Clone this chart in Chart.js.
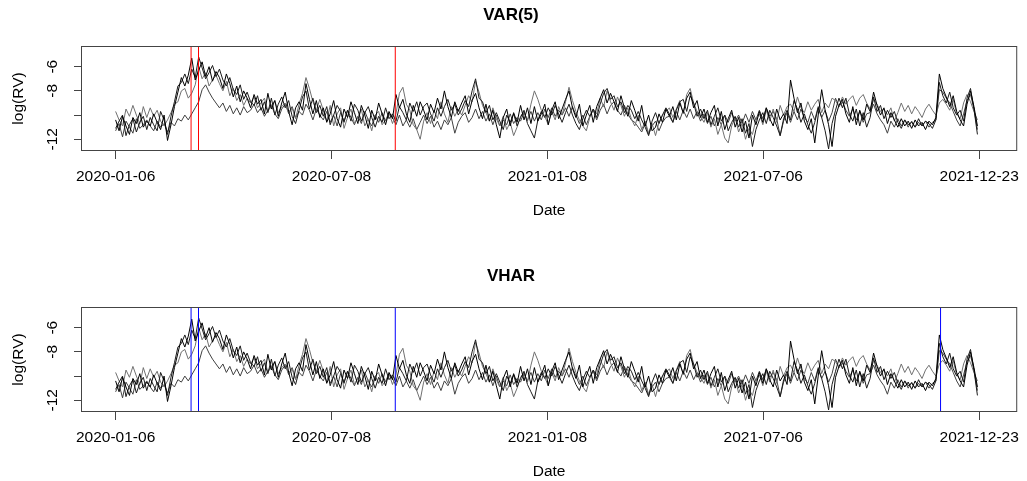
<!DOCTYPE html>
<html>
<head>
<meta charset="utf-8">
<script src="https://cdn.jsdelivr.net/npm/chart.js@4.4.0/dist/chart.umd.min.js"></script>
<style>
  body { margin: 0; background: #fff; }
  .panel { position: absolute; left: 0; width: 1027px; height: 220px; }
</style>
</head>
<body>
<div class="panel" style="top:0"><canvas id="varChart" width="1027" height="220"></canvas></div>
<div class="panel" style="top:261px"><canvas id="vharChart" width="1027" height="220"></canvas></div>
<script>
// log(RV), one value every 2 trading days (day index = i * 2)
const step = 2;
const tickDays = [0, 124.75, 249.5, 374.25, 499];
const tickLabels = ['2020-01-06', '2020-07-08', '2021-01-08', '2021-07-06', '2021-12-23'];
const yTicks = [-12, -10, -8, -6];
const breaksVAR = [43.6, 47.9, 161.6];
const breaksVHAR = [43.6, 47.9, 161.6, 476.7];

const rv1 = [
  -10.4,-11.3,-10.1,-10.9,-11.6,-10.2,-10.7,-9.8,-11.0,-10.5,
  -10.9,-9.9,-10.6,-11.2,-10.0,-12.1,-10.8,-9.3,-8.1,-6.9,
  -7.6,-6.7,-5.3,-7.1,-6.3,-5.6,-6.8,-6.0,-7.2,-6.4,
  -6.9,-7.8,-6.6,-7.4,-8.5,-7.6,-8.9,-8.0,-8.6,-9.4,
  -8.3,-9.1,-8.7,-9.9,-8.2,-9.5,-8.8,-10.1,-9.0,-8.1,
  -9.7,-10.8,-9.4,-8.9,-9.6,-7.4,-8.7,-9.9,-8.8,-10.2,
  -9.4,-10.6,-9.9,-8.8,-10.3,-11.0,-9.5,-10.2,-8.9,-9.8,
  -10.7,-9.2,-10.0,-11.1,-9.6,-10.4,-9.0,-9.9,-10.8,-9.7,
  -10.3,-8.3,-9.4,-8.7,-9.9,-10.6,-9.2,-10.1,-8.9,-9.6,
  -10.4,-9.1,-9.8,-8.6,-9.5,-8.0,-9.3,-10.2,-8.9,-9.7,
  -9.0,-8.4,-9.9,-8.8,-8.2,-9.4,-10.3,-9.1,-10.5,-9.6,
  -10.8,-11.9,-10.2,-9.5,-10.9,-9.8,-10.6,-9.2,-10.4,-9.4,
  -10.7,-9.3,-10.5,-9.9,-9.1,-10.8,-9.6,-8.9,-10.3,-9.5,
  -8.7,-8.0,-9.4,-10.2,-9.1,-10.9,-10.0,-9.2,-10.6,-9.3,
  -8.6,-7.9,-9.0,-8.2,-8.9,-9.7,-8.4,-9.4,-10.1,-8.8,
  -9.6,-10.5,-9.2,-10.9,-10.0,-11.3,-11.0,-9.9,-10.6,-9.5,
  -10.1,-9.3,-10.4,-9.0,-9.8,-8.6,-8.1,-9.4,-8.8,-10.2,
  -9.5,-10.6,-9.8,-9.2,-10.9,-9.7,-11.2,-10.3,-9.6,-11.0,
  -10.2,-11.4,-10.5,-11.9,-10.0,-10.8,-9.7,-10.6,-9.4,-10.3,
  -10.9,-9.5,-10.4,-9.9,-10.7,-7.1,-8.6,-9.8,-9.0,-10.5,
  -11.2,-10.3,-12.3,-10.0,-7.9,-9.6,-10.8,-12.6,-10.1,-9.2,
  -8.7,-9.9,-10.6,-9.3,-10.8,-9.6,-10.4,-9.1,-9.7,-8.1,
  -9.2,-10.0,-9.4,-10.7,-9.8,-10.4,-11.0,-10.3,-10.9,-10.5,
  -11.1,-10.4,-10.9,-10.6,-11.2,-10.5,-10.8,-10.2,-6.6,-7.8,
  -8.5,-9.3,-8.4,-9.7,-10.4,-10.9,-9.1,-8.0,-9.3,-10.9];
const rv2 = [
  -11.1,-10.5,-10.0,-11.7,-10.8,-10.3,-11.4,-10.6,-10.1,-11.2,
  -10.2,-10.8,-11.3,-9.7,-10.4,-11.6,-10.1,-8.9,-7.6,-7.3,
  -6.6,-7.4,-6.2,-6.9,-5.2,-6.1,-7.0,-6.5,-5.9,-6.8,
  -6.2,-7.1,-7.6,-6.9,-7.9,-8.3,-7.5,-8.7,-8.1,-8.9,
  -9.2,-8.4,-9.6,-8.9,-9.8,-8.6,-10.0,-9.1,-8.5,-9.4,
  -8.8,-10.1,-10.7,-9.6,-8.5,-8.0,-9.5,-8.6,-9.8,-9.2,
  -10.1,-9.3,-10.8,-10.0,-9.2,-9.7,-10.6,-9.6,-10.5,-9.1,
  -9.6,-10.5,-9.8,-9.3,-10.2,-11.0,-10.1,-10.6,-9.4,-10.3,
  -9.9,-10.5,-9.3,-9.8,-10.4,-9.0,-9.7,-8.9,-10.0,-9.3,
  -9.0,-9.9,-10.5,-9.4,-10.1,-9.3,-8.7,-9.6,-9.1,-10.0,
  -9.5,-8.8,-9.3,-8.0,-7.0,-8.6,-8.9,-9.8,-9.2,-10.4,
  -9.8,-10.5,-11.2,-10.0,-10.6,-9.9,-10.9,-10.2,-9.6,-10.7,
  -11.3,-11.9,-10.4,-9.7,-10.2,-9.4,-10.0,-9.2,-9.9,-10.6,
  -9.8,-9.1,-10.0,-10.7,-11.2,-10.3,-9.6,-10.1,-9.5,-10.2,
  -9.1,-8.2,-7.8,-8.7,-8.4,-9.3,-8.9,-9.8,-9.2,-9.6,
  -10.3,-9.7,-10.4,-11.0,-11.7,-10.5,-9.8,-10.7,-10.0,-9.4,
  -9.9,-10.6,-9.6,-8.9,-8.7,-9.7,-8.4,-9.0,-10.1,-9.5,
  -10.3,-9.6,-10.8,-10.1,-9.4,-10.5,-10.0,-11.3,-10.6,-10.1,
  -11.0,-10.3,-11.5,-10.7,-12.6,-11.2,-10.4,-9.8,-10.7,-9.6,
  -10.2,-10.9,-11.7,-10.3,-9.6,-10.4,-8.8,-9.5,-10.6,-9.9,
  -10.8,-11.5,-10.6,-9.4,-10.2,-11.3,-12.8,-10.7,-9.6,-8.6,
  -9.4,-8.6,-9.9,-10.5,-9.5,-10.9,-9.8,-11.0,-10.2,-8.5,
  -9.7,-9.2,-10.3,-9.6,-10.2,-9.7,-10.6,-11.1,-10.4,-10.8,
  -10.6,-11.0,-10.3,-10.9,-10.5,-10.7,-11.1,-10.4,-7.3,-8.4,
  -9.0,-8.1,-9.4,-10.0,-9.6,-10.5,-8.6,-7.8,-9.5,-11.6];
const rv3 = [
  -9.7,-10.4,-10.9,-9.5,-10.1,-9.2,-10.0,-10.7,-9.3,-10.2,
  -9.4,-10.1,-9.6,-10.5,-10.9,-10.4,-9.8,-9.1,-8.9,-8.0,
  -7.8,-8.6,-8.2,-7.5,-6.0,-7.0,-6.5,-7.6,-7.1,-6.7,
  -7.4,-8.0,-7.2,-8.4,-7.8,-8.8,-8.3,-9.2,-8.6,-9.0,
  -8.5,-9.4,-9.0,-8.6,-9.7,-9.2,-8.8,-9.8,-9.3,-9.0,
  -9.9,-9.4,-10.3,-9.1,-8.2,-6.9,-7.8,-8.9,-9.6,-8.7,
  -9.6,-10.5,-9.2,-10.9,-9.9,-9.4,-11.1,-10.2,-9.5,-10.7,
  -10.2,-9.5,-10.9,-10.3,-11.3,-10.0,-9.7,-10.8,-10.4,-9.8,
  -10.7,-9.9,-8.2,-7.7,-9.1,-9.6,-10.8,-11.2,-12.0,-10.5,
  -9.8,-10.7,-9.6,-10.3,-8.9,-9.9,-10.6,-9.3,-10.1,-9.5,
  -10.0,-9.2,-8.4,-8.9,-7.2,-8.1,-9.2,-9.8,-10.5,-9.4,
  -10.3,-10.9,-10.1,-11.2,-10.6,-11.7,-11.0,-10.1,-9.7,-10.5,
  -9.1,-8.0,-8.7,-9.6,-10.1,-10.8,-9.7,-10.4,-9.3,-10.0,
  -8.9,-7.7,-8.8,-9.7,-10.4,-10.9,-11.3,-10.2,-9.5,-9.9,
  -8.6,-9.3,-8.0,-8.9,-9.6,-8.5,-9.2,-10.1,-9.4,-10.3,
  -10.9,-10.0,-11.2,-10.5,-11.5,-10.7,-11.7,-10.6,-10.0,-9.7,
  -9.4,-10.2,-9.5,-8.8,-9.9,-8.3,-7.8,-9.0,-9.7,-10.1,
  -10.6,-9.8,-11.0,-10.3,-11.6,-10.8,-11.9,-12.3,-10.9,-10.2,
  -11.4,-10.7,-12.0,-11.1,-11.6,-10.4,-9.9,-10.8,-9.6,-10.5,
  -9.5,-10.6,-9.2,-10.0,-9.3,-9.1,-9.7,-8.5,-9.4,-9.8,
  -8.9,-9.6,-9.1,-8.7,-9.8,-9.0,-9.4,-8.6,-8.8,-9.3,
  -8.5,-9.1,-8.7,-8.4,-9.2,-8.6,-8.3,-9.0,-9.5,-8.7,
  -9.1,-9.7,-9.5,-10.0,-9.4,-10.5,-9.8,-9.0,-9.7,-9.2,
  -9.9,-9.3,-9.7,-10.2,-9.5,-9.1,-9.6,-10.0,-9.0,-8.7,
  -9.1,-9.6,-8.7,-9.9,-10.3,-9.0,-8.3,-8.9,-9.7,-10.4];
const rv4 = [
  -11.3,-10.7,-11.8,-10.5,-11.0,-11.5,-10.3,-11.1,-10.8,-10.4,
  -10.9,-11.3,-10.5,-11.0,-10.7,-11.4,-10.6,-10.9,-10.3,-10.5,
  -10.0,-10.4,-9.9,-9.4,-8.9,-7.9,-7.5,-8.1,-8.6,-9.0,
  -9.4,-9.0,-9.7,-9.2,-9.9,-9.4,-10.0,-9.3,-9.8,-9.6,
  -9.1,-9.8,-9.4,-10.1,-9.6,-9.2,-9.9,-10.3,-9.5,-9.1,
  -9.8,-9.3,-10.2,-9.7,-10.0,-9.1,-9.6,-10.4,-9.5,-10.0,
  -10.4,-9.7,-10.6,-10.0,-10.9,-9.8,-10.5,-9.6,-10.2,-10.8,
  -10.1,-10.7,-9.7,-10.4,-10.9,-10.0,-10.6,-9.8,-10.5,-9.9,
  -10.2,-10.8,-10.0,-10.9,-10.4,-11.0,-10.3,-11.2,-10.6,-10.0,
  -10.7,-10.1,-11.0,-10.5,-11.2,-10.4,-10.8,-10.2,-11.5,-10.6,
  -10.1,-9.8,-10.6,-10.2,-9.5,-10.3,-9.7,-10.5,-9.9,-10.8,
  -10.0,-10.9,-10.4,-10.8,-9.9,-10.7,-10.2,-10.5,-9.8,-10.4,
  -9.7,-10.5,-9.8,-10.4,-9.5,-10.2,-9.4,-10.1,-9.6,-10.0,
  -9.4,-10.1,-9.3,-10.0,-10.7,-10.0,-10.8,-10.1,-9.6,-10.4,
  -9.6,-9.1,-9.9,-9.2,-8.9,-9.6,-10.0,-9.2,-9.9,-10.4,
  -10.6,-11.0,-11.4,-10.7,-11.6,-10.9,-10.5,-11.3,-10.6,-10.2,
  -10.1,-10.6,-9.7,-10.4,-9.6,-10.2,-9.5,-10.3,-9.7,-10.5,
  -9.9,-10.7,-10.1,-10.9,-10.2,-10.8,-10.0,-10.6,-9.8,-10.5,
  -10.0,-10.7,-9.9,-10.6,-9.7,-10.4,-9.6,-10.3,-9.4,-10.1,
  -9.7,-10.3,-11.7,-10.5,-9.8,-10.6,-9.7,-10.4,-9.5,-10.2,
  -10.6,-9.7,-10.4,-9.3,-10.2,-9.6,-10.5,-9.8,-8.6,-9.3,
  -8.9,-9.6,-10.1,-9.5,-10.4,-9.7,-10.6,-9.9,-9.8,-9.1,
  -9.9,-10.4,-10.8,-11.5,-10.5,-11.0,-10.3,-10.9,-10.4,-11.0,
  -10.5,-11.0,-10.6,-10.9,-10.5,-11.0,-10.6,-10.4,-7.9,-8.1,
  -8.6,-9.0,-9.7,-10.4,-10.9,-9.9,-8.8,-8.3,-9.5,-11.2];

const seriesList = [rv1, rv2, rv3, rv4];
const seriesColors = ['#000000', '#1a1a1a', '#707070', '#404040'];

const font = { family: 'Liberation Sans, Arial, sans-serif', size: 15.5 };

// box around the plot region plus the vertical break lines
const boxAndBreaks = {
  id: 'boxAndBreaks',
  afterDatasetsDraw(chart, args, opts) {
    const { ctx, chartArea: a, scales: { x } } = chart;
    ctx.save();
    ctx.lineWidth = 1;
    ctx.strokeStyle = opts.color;
    opts.breaks.forEach(b => {
      const px = x.getPixelForValue(b);
      ctx.beginPath();
      ctx.moveTo(px, a.top);
      ctx.lineTo(px, a.bottom);
      ctx.stroke();
    });
    ctx.strokeStyle = '#444';
    ctx.strokeRect(a.left + 0.5, a.top + 0.5, a.width - 1, a.height - 1);
    ctx.restore();
  }
};

function makeChart(id, title, breaks, breakColor) {
  new Chart(document.getElementById(id), {
    type: 'line',
    data: {
      datasets: seriesList.map((vals, k) => ({
        data: vals.map((v, i) => ({ x: i * step, y: v })),
        borderColor: seriesColors[k],
        borderWidth: 1,
        pointRadius: 0,
        tension: 0,
        fill: false
      }))
    },
    options: {
      responsive: false,
      animation: false,
      layout: { padding: { left: 0, right: 5, top: 0, bottom: 0 } },
      plugins: {
        legend: { display: false },
        tooltip: { enabled: false },
        title: {
          display: true,
          text: title,
          color: '#000',
          font: { family: font.family, size: 17, weight: 'bold' },
          padding: { top: 5, bottom: 20.6 }
        },
        boxAndBreaks: { breaks: breaks, color: breakColor }
      },
      scales: {
        x: {
          type: 'linear',
          min: -20,
          max: 521,
          afterFit: s => { s.height = 69; },
          afterBuildTicks: s => { s.ticks = tickDays.map(v => ({ value: v })); },
          ticks: {
            autoSkip: false,
            maxRotation: 0,
            padding: 8,
            color: '#000',
            font: font,
            callback: (v, i) => tickLabels[i]
          },
          grid: { drawOnChartArea: false, tickLength: 8, color: '#444' },
          border: { display: false },
          title: { display: true, text: 'Date', color: '#000', font: font, padding: { top: 0, bottom: 0 } }
        },
        y: {
          min: -12.97,
          max: -4.29,
          afterFit: s => { s.width = 81; },
          afterBuildTicks: s => { s.ticks = yTicks.map(v => ({ value: v })); },
          ticks: {
            minRotation: 90,
            maxRotation: 90,
            crossAlign: 'center',
            padding: 10,
            color: '#000',
            font: font,
            callback: v => (v === -10 ? '' : v)
          },
          grid: { drawOnChartArea: false, tickLength: 7, color: '#444' },
          border: { display: false },
          title: { display: true, text: 'log(RV)', color: '#000', font: font, padding: { top: 9, bottom: 0 } }
        }
      }
    },
    plugins: [boxAndBreaks]
  });
}

makeChart('varChart', 'VAR(5)', breaksVAR, '#ff0000');
makeChart('vharChart', 'VHAR', breaksVHAR, '#0000ff');
</script>
</body>
</html>
